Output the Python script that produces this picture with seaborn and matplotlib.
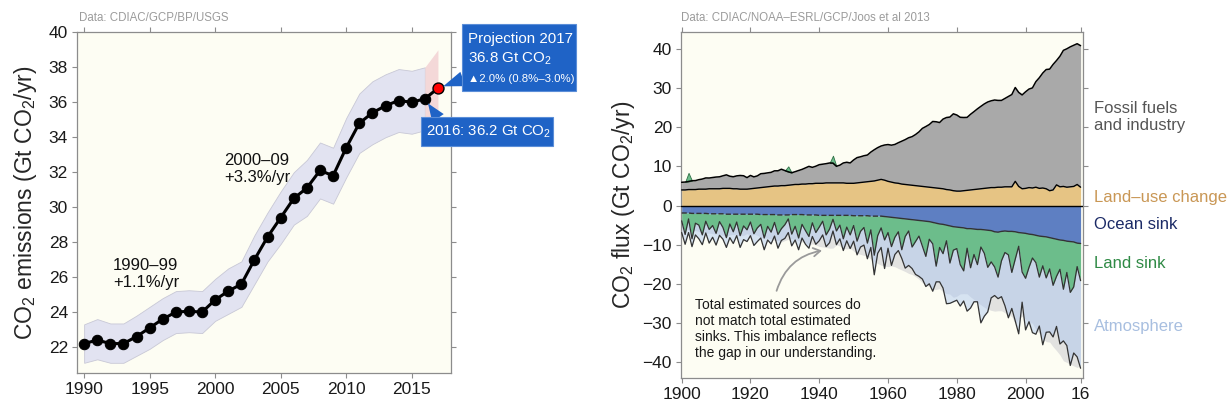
import numpy as np
import seaborn as sns
import matplotlib.transforms as mtransforms
from matplotlib import pyplot as plt
from matplotlib.patches import Rectangle

W, H = 1229, 417

# ---------------- left panel: fossil CO2 emissions (Gt CO2/yr)
em_years = list(range(1990, 2017))
emissions = [22.2, 22.4, 22.2, 22.2, 22.6, 23.1, 23.6, 24.0, 24.05, 24.0,
             24.7, 25.2, 25.6, 27.0, 28.3, 29.4, 30.5, 31.1, 32.1, 31.8,
             33.4, 34.8, 35.4, 35.8, 36.1, 36.0, 36.2]
em_upper = [23.3, 23.6, 23.35, 23.35, 23.8, 24.3, 24.8, 25.2, 25.25, 25.2,
            25.9, 26.5, 26.9, 28.4, 29.7, 30.9, 32.0, 32.7, 33.7, 33.4,
            35.1, 36.5, 37.2, 37.6, 37.9, 37.8, 38.0]
em_lower = [21.1, 21.3, 21.1, 21.1, 21.5, 21.9, 22.4, 22.8, 22.85, 22.8,
            23.5, 23.9, 24.3, 25.6, 26.9, 27.9, 29.0, 29.5, 30.5, 30.2,
            31.7, 33.1, 33.6, 34.0, 34.3, 34.2, 34.4]
proj_years = [2016, 2017]
proj_upper = [38.0, 39.0]
proj_lower = [34.3, 34.3]
proj_value = 36.8

# ---------------- right panel: global carbon budget (Gt CO2/yr)
budget_years = list(range(1900, 2017))
fossil = [1.96, 2.02, 2.07, 2.26, 2.29, 2.43, 2.59, 2.87, 2.75, 2.88,
          3.00, 3.06, 3.22, 3.46, 3.11, 3.07, 3.30, 3.50, 3.43, 2.95,
          3.41, 2.94, 3.10, 3.55, 3.53, 3.57, 3.60, 3.89, 3.90, 4.20,
          3.86, 3.44, 3.10, 3.27, 3.57, 3.76, 4.14, 4.43, 4.18, 4.37,
          4.76, 4.89, 4.92, 5.10, 5.07, 4.25, 4.54, 5.10, 5.38, 5.20,
          5.97, 6.47, 6.58, 6.75, 6.83, 7.48, 7.98, 8.32, 8.54, 8.99,
          9.41, 9.45, 9.84, 10.38, 10.97, 11.47, 12.05, 12.43, 13.07, 13.85,
          14.85, 15.42, 16.03, 16.91, 16.94, 16.84, 17.82, 18.42, 18.64, 19.67,
          19.47, 18.88, 18.73, 18.66, 19.35, 19.93, 20.54, 21.08, 21.6, 22.0,
          22.2, 22.4, 22.2, 22.2, 22.6, 23.1, 23.6, 24.0, 24.05, 24.0,
          24.7, 25.2, 25.6, 27.0, 28.3, 29.4, 30.5, 31.1, 32.1, 31.8,
          33.4, 34.8, 35.4, 35.8, 36.1, 36.0, 36.2]
land_use = [4.0, 4.0, 4.1, 4.1, 4.1, 4.2, 4.2, 4.2, 4.3, 4.3,
            4.3, 4.3, 4.4, 4.4, 4.4, 4.3, 4.3, 4.2, 4.2, 4.2,
            4.3, 4.4, 4.5, 4.6, 4.7, 4.8, 4.9, 5.0, 5.0, 5.1,
            5.1, 5.2, 5.3, 5.4, 5.4, 5.5, 5.5, 5.6, 5.6, 5.7,
            5.7, 5.7, 5.8, 5.8, 5.8, 5.8, 5.8, 5.8, 5.7, 5.7,
            5.7, 5.8, 5.9, 6.0, 6.1, 6.2, 6.3, 6.5, 6.7, 6.5,
            6.2, 6.0, 5.8, 5.7, 5.5, 5.4, 5.3, 5.2, 5.1, 5.0,
            4.9, 4.8, 4.7, 4.6, 4.5, 4.4, 4.3, 4.1, 4.0, 3.8,
            3.7, 3.7, 3.8, 3.9, 4.0, 4.1, 4.2, 4.3, 4.4, 4.5,
            4.6, 4.6, 4.7, 4.7, 4.8, 4.8, 4.8, 6.2, 4.9, 4.3,
            4.4, 4.6, 4.5, 4.7, 4.4, 4.5, 4.3, 3.8, 4.0, 5.3,
            4.8, 4.9, 4.7, 4.8, 4.9, 5.4, 4.7]
ocean_sink = [-1.9, -1.9, -1.9, -2.0, -2.0, -2.0, -2.0, -2.0, -2.1, -2.1,
              -2.1, -2.1, -2.1, -2.2, -2.2, -2.2, -2.2, -2.2, -2.2, -2.2,
              -2.2, -2.2, -2.2, -2.3, -2.3, -2.3, -2.3, -2.3, -2.4, -2.4,
              -2.4, -2.4, -2.3, -2.3, -2.3, -2.3, -2.4, -2.4, -2.4, -2.4,
              -2.5, -2.5, -2.5, -2.5, -2.5, -2.5, -2.5, -2.5, -2.5, -2.5,
              -2.6, -2.6, -2.6, -2.6, -2.6, -2.7, -2.7, -2.7, -2.7, -2.8,
              -2.9, -3.0, -3.1, -3.2, -3.3, -3.4, -3.5, -3.6, -3.7, -3.8,
              -3.9, -4.0, -4.1, -4.3, -4.5, -4.7, -4.8, -5.0, -5.2, -5.4,
              -5.5, -5.6, -5.7, -5.9, -5.9, -6.0, -6.1, -6.1, -6.2, -6.3,
              -6.4, -6.7, -6.8, -6.6, -6.5, -6.6, -6.6, -6.7, -6.9, -7.0,
              -7.1, -7.3, -7.4, -7.6, -7.8, -7.9, -8.0, -8.2, -8.4, -8.6,
              -8.8, -8.9, -9.1, -9.2, -9.3, -9.6, -9.7]
land_sink = [-2.0, -5.5, -1.5, -6.5, -2.5, -3.0, -5.5, -2.0, -4.0, -3.0,
             -5.0, -2.0, -3.5, -6.0, -2.5, -4.5, -2.0, -5.5, -3.0, -4.0,
             -2.0, -5.0, -3.5, -2.5, -6.0, -3.0, -4.5, -2.0, -5.0, -3.5,
             -2.5, -1.0, -5.0, -3.0, -6.0, -2.5, -4.0, -5.5, -2.0, -4.5,
             -3.0, -1.5, -5.0, -3.5, -1.0, -4.0, -2.5, -6.0, -3.0, -5.0,
             -2.5, -6.5, -4.0, -3.0, -7.0, -3.5, -10.0, -5.0, -3.0, -6.0,
             -4.0, -7.5, -5.0, -3.5, -8.0, -4.5, -3.0, -7.0, -5.5, -4.0,
             -6.5, -9.0, -4.5, -5.5, -11.0, -6.0, -7.5, -4.0, -9.5, -6.0,
             -5.5, -9.5, -11.0, -5.0, -10.0, -6.5, -9.0, -4.5, -6.0, -9.5,
             -8.0, -9.0, -11.5, -7.5, -5.5, -6.0, -10.5, -7.0, -3.5, -10.0,
             -11.5, -8.5, -6.0, -7.0, -10.5, -7.5, -10.5, -8.0, -12.0, -9.5,
             -7.5, -12.5, -8.0, -13.0, -11.5, -6.0, -9.5]
atmosphere = [-3.0, -2.5, -3.5, -2.0, -3.0, -3.5, -2.5, -3.0, -3.5, -3.0,
              -3.0, -3.5, -3.0, -2.5, -3.5, -3.0, -3.5, -3.0, -3.5, -3.0,
              -3.5, -3.0, -3.5, -3.5, -3.0, -3.5, -3.0, -3.5, -3.5, -3.0,
              -3.5, -3.5, -3.0, -3.5, -3.0, -3.5, -3.5, -3.0, -3.5, -3.0,
              -3.5, -3.5, -3.0, -3.5, -3.0, -3.5, -3.5, -3.0, -3.5, -3.5,
              -4.0, -3.5, -4.0, -4.5, -4.0, -4.5, -5.0, -4.5, -5.0, -7.3,
              -4.0, -4.8, -4.4, -4.8, -2.2, -8.1, -8.8, -5.5, -8.4, -10.3,
              -8.4, -7.7, -11.4, -12.1, -4.0, -8.8, -8.8, -16.1, -10.3, -13.2,
              -13.2, -10.6, -7.7, -16.1, -10.3, -12.1, -9.5, -19.4, -16.1, -11.4,
              -9.2, -7.3, -5.5, -9.2, -13.6, -16.1, -9.2, -15.8, -22.4, -7.7,
              -13.2, -13.9, -19.1, -18.3, -12.5, -20.2, -13.9, -16.1, -13.2, -12.8,
              -19.1, -13.2, -18.7, -18.7, -16.9, -23.1, -22.4]
# years where sinks poke above the sources (small green peaks on top)
excess_years = [1902, 1931, 1944]
excess_height = [2.2, 1.4, 1.9]
budget_ticks = [1900, 1920, 1940, 1960, 1980, 2000, 2016]
budget_ticklabels = ['1900', '1920', '1940', '1960', '1980', '2000', '16']
side_labels = ['Fossil fuels\nand industry', 'Land\u2013use change', 'Ocean sink',
               'Land sink', 'Atmosphere']
side_label_y = [22.6, 2.0, -4.9, -14.9, -30.8]
side_label_colors = ['#555555', '#c99755', '#1b2a66', '#2f8a45', '#a8bfe0']

# ---------------- style
sns.set_style('ticks')
plt.rcParams['font.family'] = ['Liberation Sans', 'DejaVu Sans']
plt.rcParams['mathtext.default'] = 'regular'

fig = plt.figure(figsize=(W / 100, H / 100), dpi=100)
ax1 = fig.add_axes([0.0627, 0.1048, 0.3043, 0.8177])
ax2 = fig.add_axes([0.5541, 0.0935, 0.3271, 0.8298])

for ax in (ax1, ax2):
    ax.set_facecolor('#fdfdf3')
    for s in ax.spines.values():
        s.set_color('#8c8c8c')
        s.set_linewidth(0.9)
    ax.tick_params(direction='out', length=3.5, width=0.8, color='#8c8c8c',
                   labelcolor='#1a1a1a', labelsize=12.5, top=True, right=True,
                   labeltop=False, labelright=False, pad=3)

# ---------------- left panel
ax1.fill_between(em_years, em_lower, em_upper, color='#e2e3f1', ec='#c8c8d6', lw=0.6, zorder=1)
ax1.fill_between(proj_years, proj_lower, proj_upper, color='#f4d8d8', lw=0, zorder=1)
sns.lineplot(x=[em_years[-1], 2017], y=[emissions[-1], proj_value], ax=ax1,
             color='black', lw=2.2, zorder=3)
sns.lineplot(x=em_years, y=emissions, ax=ax1, color='black', lw=2.2, marker='o',
             markersize=7.5, markeredgecolor='black', zorder=4)
sns.scatterplot(x=[2017], y=[proj_value], ax=ax1, color='#ff0000', edgecolor='black',
                s=62, linewidth=1, zorder=5)
ax1.set_xlim(1989.46, 2018.0)
ax1.set_ylim(20.5, 40)
ax1.set_xticks(range(1990, 2016, 5))
ax1.set_yticks(range(22, 41, 2))
ax1.set_xlabel('')
ax1.set_ylabel('CO$_2$ emissions (Gt CO$_2$/yr)', fontsize=16.5, labelpad=7)
ax1.text(1992.2, 27.1, '1990\u201399\n+1.1%/yr', fontsize=12, va='top', color='#111111')
ax1.text(2000.7, 33.1, '2000\u201309\n+3.3%/yr', fontsize=12, va='top', color='#111111')
fig.text(79 / W, 1 - 18 / H, 'Data: CDIAC/GCP/BP/USGS', fontsize=8.3, color='#9b9b9b', va='center')

blue = '#1f63c6'


def px_box(l, t, r, b):
    fig.add_artist(Rectangle((l / W, 1 - b / H), (r - l) / W, (b - t) / H,
                             transform=fig.transFigure, fc=blue, ec='#5b8ed8',
                             lw=0.8, zorder=5))


px_box(461.7, 24, 575.7, 90.7)
fig.text(467.5 / W, 1 - 43.3 / H, 'Projection 2017', color='white', fontsize=10.9, va='baseline', zorder=6)
fig.text(467.5 / W, 1 - 62.7 / H, '36.8 Gt CO$_2$', color='white', fontsize=10.9, va='baseline', zorder=6)
fig.text(467.5 / W, 1 - 82.3 / H, '\u25b22.0% (0.8%\u20133.0%)', color='white', fontsize=8.2,
         va='baseline', zorder=6)
px_box(421, 116.7, 553, 145.7)
fig.text(426.5 / W, 1 - 135.7 / H, '2016: 36.2 Gt CO$_2$', color='white', fontsize=10.8,
         va='baseline', zorder=6)
ax1.annotate('', xy=(2017, proj_value), xytext=(463 / W, 1 - 79 / H), textcoords='figure fraction',
             arrowprops=dict(arrowstyle='wedge,tail_width=1.1,shrink_factor=0.5', fc=blue,
                             ec='none', shrinkA=0, shrinkB=4),
             annotation_clip=False, zorder=6)
ax1.annotate('', xy=(2016, emissions[-1]), xytext=(438 / W, 1 - 118 / H), textcoords='figure fraction',
             arrowprops=dict(arrowstyle='wedge,tail_width=1.0,shrink_factor=0.5', fc=blue,
                             ec='none', shrinkA=0, shrinkB=4),
             annotation_clip=False, zorder=6)

# ---------------- right panel
yrs = np.array(budget_years)
luc = np.array(land_use)
src = np.array(fossil) + luc
oc = np.array(ocean_sink)
ls = oc + np.array(land_sink)
at = ls + np.array(atmosphere)

ax2.fill_between(yrs, 0, -src, color='#e2e2e0', lw=0, zorder=1)
ax2.fill_between(yrs, 0, luc, color='#e6c484', lw=0, zorder=2)
ax2.fill_between(yrs, luc, src, color='#a9a9a9', lw=0, zorder=2)
ax2.fill_between(yrs, 0, oc, color='#5e7fc2', lw=0, zorder=2)
ax2.fill_between(yrs, oc, ls, color='#6cbd8b', lw=0, zorder=2)
ax2.fill_between(yrs, ls, at, color='#a8c4f0', alpha=0.45, lw=0, zorder=2)
for ey, eh in zip(excess_years, excess_height):
    i = budget_years.index(ey)
    xs = yrs[i - 1:i + 2]
    base = src[i - 1:i + 2]
    ax2.fill_between(xs, base, base + np.array([0, eh, 0]), color='#6cbd8b',
                     ec='#2f6f45', lw=0.6, zorder=3)

sns.lineplot(x=yrs, y=src, ax=ax2, color='black', lw=1.1, zorder=4)
sns.lineplot(x=yrs, y=luc, ax=ax2, color='black', lw=1.0, zorder=4)
ax2.axhline(0, color='black', lw=1.0, zorder=4)
early = yrs <= 1958
late = yrs >= 1958
sns.lineplot(x=yrs[early], y=oc[early], ax=ax2, color='#333333', lw=1.0, ls='--', zorder=4)
sns.lineplot(x=yrs[late], y=oc[late], ax=ax2, color='#333333', lw=1.0, zorder=4)
sns.lineplot(x=yrs, y=ls, ax=ax2, color='#333333', lw=0.9, zorder=4)
sns.lineplot(x=yrs, y=at, ax=ax2, color='#333333', lw=0.9, zorder=4)

ax2.set_xlim(1899.8, 2016.7)
ax2.set_ylim(-44.1, 44.4)
ax2.set_xticks(budget_ticks, labels=budget_ticklabels)
ax2.set_yticks(range(-40, 41, 10))
ax2.set_xlabel('')
ax2.set_ylabel('CO$_2$ flux (Gt CO$_2$/yr)', fontsize=16.5, labelpad=4)

trans = mtransforms.blended_transform_factory(ax2.transAxes, ax2.transData)
for lab, yv, col in zip(side_labels, side_label_y, side_label_colors):
    ax2.text(1.027, yv, lab, transform=trans, fontsize=12, color=col, va='center', ha='left')

ax2.text(1903.9, -23.6, 'Total estimated sources do\nnot match total estimated\n'
         'sinks. This imbalance reflects\nthe gap in our understanding.',
         fontsize=10, va='top', ha='left', color='#1a1a1a', zorder=6)
ax2.annotate('', xy=(1940.8, -11.5), xytext=(1927.6, -21.8),
             arrowprops=dict(arrowstyle='->,head_length=0.5,head_width=0.3', color='#9a9a9a',
                             lw=1.3, connectionstyle='arc3,rad=-0.3', shrinkA=0, shrinkB=0),
             zorder=6)
fig.text(681 / W, 1 - 18 / H, 'Data: CDIAC/NOAA\u2013ESRL/GCP/Joos et al 2013', fontsize=8.3,
         color='#9b9b9b', va='center')

plt.savefig('out.png', dpi=100)
